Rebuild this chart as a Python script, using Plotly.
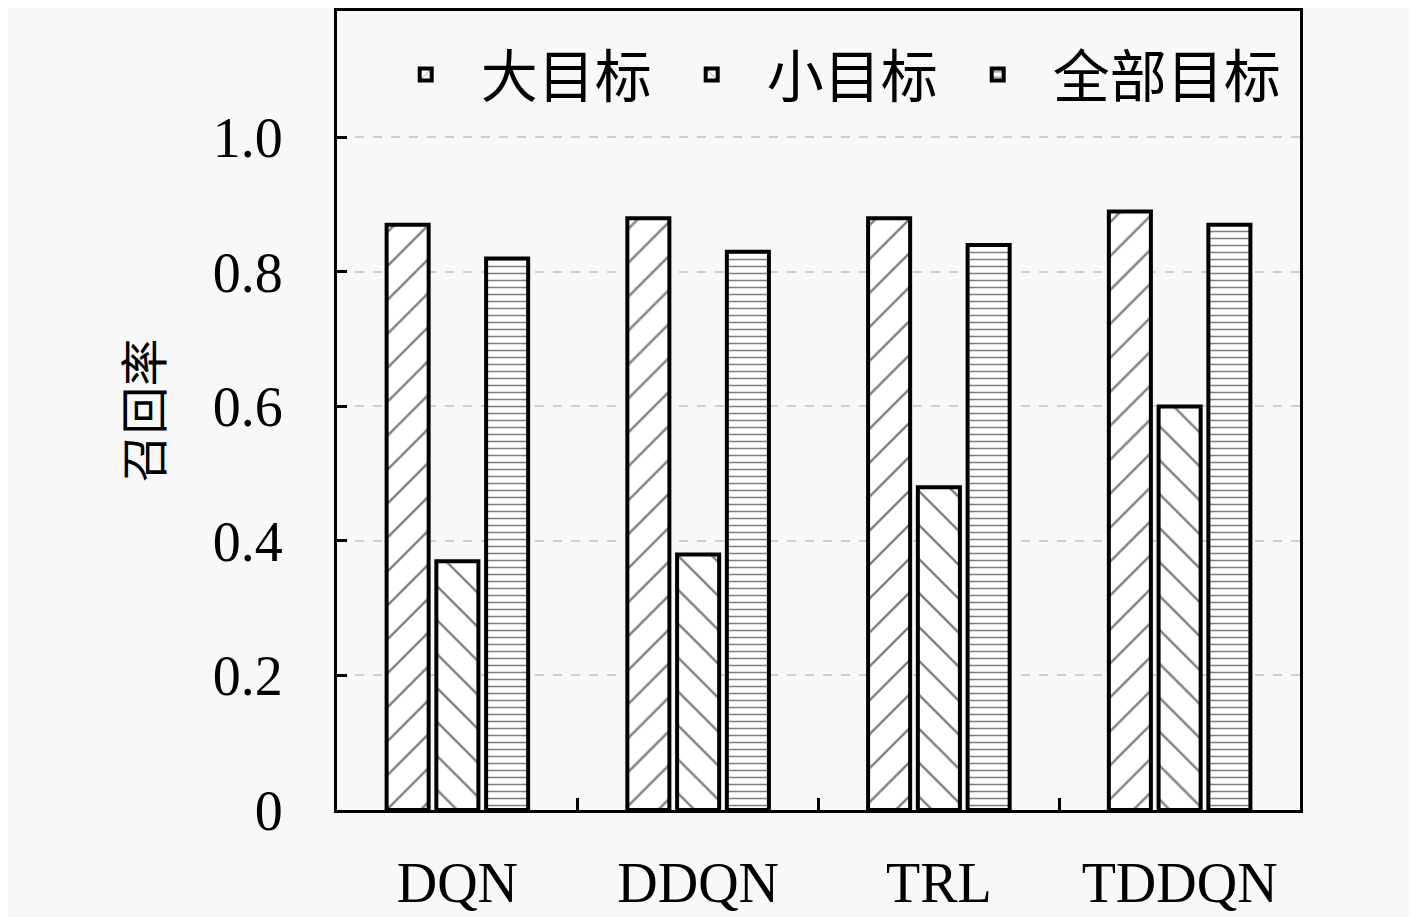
import plotly.graph_objects as go

methods = ["DQN", "DDQN", "TRL", "TDDQN"]
series_names = ["大目标", "小目标", "全部目标"]
large_recall = [0.87, 0.88, 0.88, 0.89]
small_recall = [0.37, 0.38, 0.48, 0.60]
all_recall = [0.82, 0.83, 0.84, 0.87]
y_ticks = [0, 0.2, 0.4, 0.6, 0.8, 1.0]
y_tick_text = ["0", "0.2", "0.4", "0.6", "0.8", "1.0"]

latin = "Liberation Serif, Noto Sans CJK SC, serif"
cjk = "Noto Sans CJK SC, Liberation Serif, sans-serif"

# hatch shape, tile size, solidity
patterns = [("/", 24, 0.1), ("\\", 24, 0.1), ("-", 7, 0.22)]

fig = go.Figure()
for name, vals, (shape, size, sol) in zip(series_names, [large_recall, small_recall, all_recall], patterns):
    fig.add_trace(go.Bar(
        x=methods, y=vals, name=name,
        marker=dict(
            color="white",
            line=dict(color="black", width=4),
            pattern=dict(shape=shape, size=size, solidity=sol,
                         fgcolor="black", bgcolor="white", fillmode="overlay"),
        ),
    ))

# page body has an 8px margin, so the figure is a bit smaller than the window
fig.update_layout(
    width=1409, height=909,
    margin=dict(l=329, r=117, t=0, b=107),
    paper_bgcolor="#f8f8f8",
    plot_bgcolor="#f8f8f8",
    barmode="group",
    bargap=0.38,
    bargroupgap=0.155,
    font=dict(family=latin, color="black", size=54),
    showlegend=True,
    legend=dict(
        orientation="h", x=0.035, y=0.975, xanchor="left", yanchor="top",
        font=dict(family=cjk, size=57), bgcolor="rgba(0,0,0,0)",
        itemwidth=100, tracegroupgap=0,
    ),
)

fig.update_xaxes(
    type="category",
    tickson="boundaries",
    ticks="inside", ticklen=12, tickwidth=3, tickcolor="black",
    showline=True, linewidth=3, linecolor="black", mirror=True,
    showgrid=False,
    tickfont=dict(family=latin, size=56),
    ticklabelstandoff=22,
)

fig.update_yaxes(
    range=[0, 1.188],
    tickvals=y_ticks, ticktext=y_tick_text,
    ticks="inside", ticklen=10, tickwidth=3, tickcolor="black",
    showline=True, linewidth=3, linecolor="black", mirror=True,
    showgrid=True, gridcolor="#cfcfcf", gridwidth=2, griddash="dash",
    zeroline=False,
    tickfont=dict(family=latin, size=56),
    ticklabelstandoff=40,
    title=dict(text="召回率", font=dict(family=cjk, size=48), standoff=35),
)

fig.write_html("out.html")
